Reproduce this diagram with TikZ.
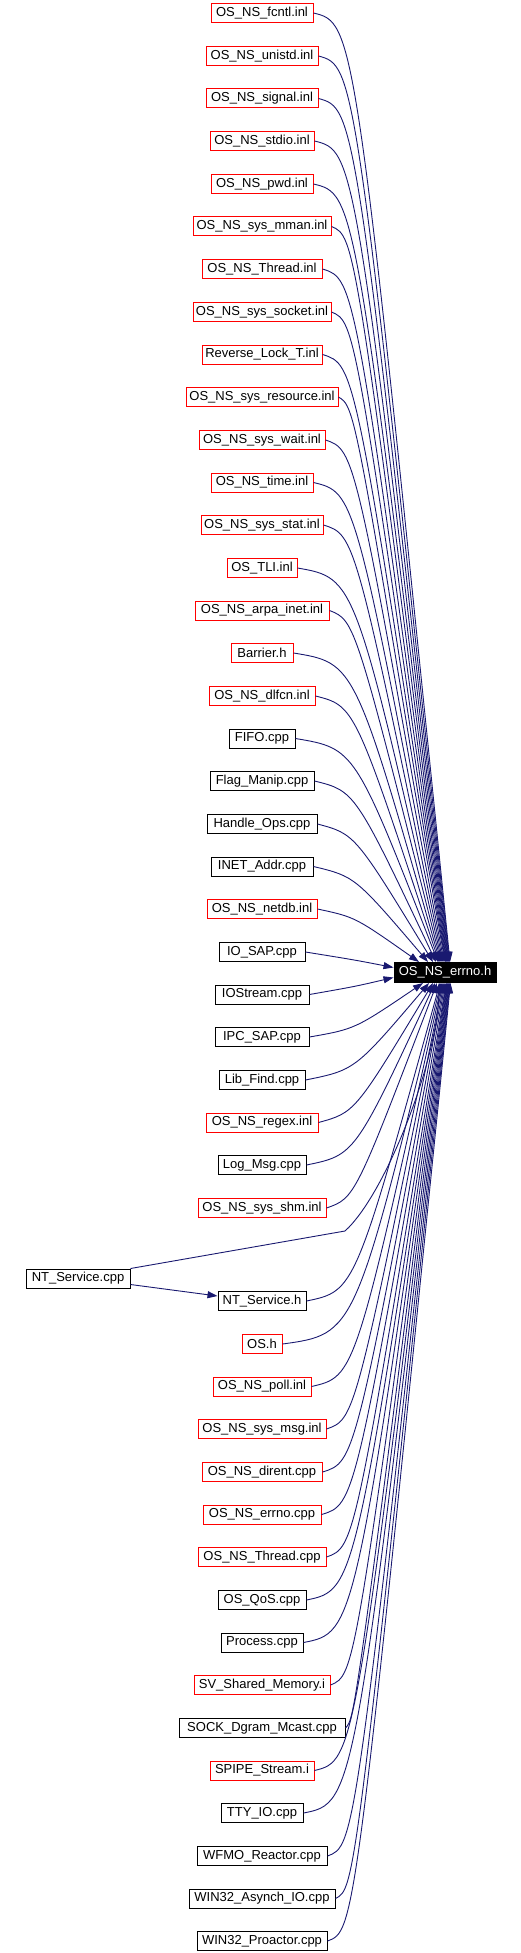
\documentclass[tikz,border=0pt]{standalone}
\usepackage{fontspec}
\setmainfont{Liberation Sans}
\usepackage{tikz}
\usetikzlibrary{arrows.meta,positioning,calc}
\definecolor{darkblue}{RGB}{25,25,112}
\definecolor{darkred}{RGB}{255,0,0}

\begin{document}
\begin{tikzpicture}[x=1pt,y=-1pt,
        file/.style={draw=#1, line width=1pt, inner xsep=1pt, inner ysep=0pt, minimum height=19pt, font=\fontsize{13}{13}\selectfont},
        dep/.style={darkblue, line width=0.9pt, -{Triangle[length=10pt,width=7pt]}}]
        \useasboundingbox (0,0) rectangle (521,1953);
        \node[file=black, fill=black, text=white, minimum width=102pt, minimum height=20pt] (errno) at (445,972.5) {OS\_NS\_errno.h};
        \coordinate (bend) at (355,0);
        \foreach \nm/\lbl/\col/\w/\y in {
            fcntl/OS\_NS\_fcntl.inl/darkred/102/13,
            unistd/OS\_NS\_unistd.inl/darkred/112/56,
            signal/OS\_NS\_signal.inl/darkred/112/98.5,
            stdio/OS\_NS\_stdio.inl/darkred/104/141,
            pwd/OS\_NS\_pwd.inl/darkred/102/184,
            mman/OS\_NS\_sys\_mman.inl/darkred/138/226.5,
            threadinl/OS\_NS\_Thread.inl/darkred/120/269,
            socket/OS\_NS\_sys\_socket.inl/darkred/138/312,
            revlock/Reverse\_Lock\_T.inl/darkred/120/354.5,
            resource/OS\_NS\_sys\_resource.inl/darkred/152/397,
            wait/OS\_NS\_sys\_wait.inl/darkred/126/440,
            time/OS\_NS\_time.inl/darkred/102/482.5,
            stat/OS\_NS\_sys\_stat.inl/darkred/122/525,
            tli/OS\_TLI.inl/darkred/70/568,
            arpa/OS\_NS\_arpa\_inet.inl/darkred/134/610.5,
            barrier/Barrier.h/darkred/62/653,
            dlfcn/OS\_NS\_dlfcn.inl/darkred/106/696,
            fifo/FIFO.cpp/black/66/738.5,
            flag/Flag\_Manip.cpp/black/104/781,
            handle/Handle\_Ops.cpp/black/110/824,
            inet/INET\_Addr.cpp/black/102/866.5,
            netdb/OS\_NS\_netdb.inl/darkred/110/909,
            iosap/IO\_SAP.cpp/black/86/952,
            iostream/IOStream.cpp/black/94/994.5,
            ipcsap/IPC\_SAP.cpp/black/94/1037,
            libfind/Lib\_Find.cpp/black/86/1080,
            regex/OS\_NS\_regex.inl/darkred/112/1122.5,
            logmsg/Log\_Msg.cpp/black/88/1165,
            sysshm/OS\_NS\_sys\_shm.inl/darkred/128/1208,
            nth/NT\_Service.h/black/88/1301,
            osh/OS.h/darkred/40/1344,
            poll/OS\_NS\_poll.inl/darkred/98/1386.5,
            sysmsg/OS\_NS\_sys\_msg.inl/darkred/128/1429,
            dirent/OS\_NS\_dirent.cpp/darkred/120/1472,
            errnocpp/OS\_NS\_errno.cpp/darkred/118/1514.5,
            threadcpp/OS\_NS\_Thread.cpp/darkred/128/1557,
            qos/OS\_QoS.cpp/black/88/1600,
            process/Process.cpp/black/82/1642.5,
            sv/SV\_Shared\_Memory.i/darkred/136/1685,
            sock/SOCK\_Dgram\_Mcast.cpp/black/166/1728,
            spipe/SPIPE\_Stream.i/darkred/104/1770.5,
            tty/TTY\_IO.cpp/black/82/1813,
            wfmo/WFMO\_Reactor.cpp/black/130/1856,
            asynch/WIN32\_Asynch\_IO.cpp/black/146/1898.5,
            proactor/WIN32\_Proactor.cpp/black/130/1941}
            \node[file=\col, minimum width=\w pt] (\nm) at (262,\y) {\lbl};
        \node[file=black, minimum width=104pt] (ntcpp) at (78,1278.5) {NT\_Service.cpp};
        \foreach \nm/\dy/\anc/\dx/\sy in {
            fcntl/10/north/5/0, unistd/10/north/4.5/0, signal/10/north/4/0, stdio/10/north/3.5/0,
            pwd/10/north/3/0, mman/10/north/2.5/0, threadinl/10/north/2/0, socket/10/north/1.5/0,
            revlock/10/north/1/0, resource/10/north/0.5/0, wait/10/north/0/0, time/10/north/-1/0,
            stat/10/north/-2/0, tli/10/north/-3/0, arpa/10/north/-4/0, barrier/10/north/-5/0,
            dlfcn/10/north/-6/0, fifo/10/north/-7/0, flag/10/north/-9/0, handle/10/north/-12/0,
            inet/10/north/-17/0, netdb/8/north/-26/0, iosap/8/west/0/5, iostream/-8/west/0/-5,
            ipcsap/-8/south/-22/0, libfind/-10/south/-16/0, regex/-10/south/-12/0, logmsg/-10/south/-10/0,
            sysshm/-10/south/-8/0, nth/-10/south/-5/0, osh/-10/south/-4/0, poll/-10/south/-3/0,
            sysmsg/-10/south/-2/0, dirent/-10/south/-1/0, errnocpp/-10/south/0/0, threadcpp/-10/south/1/0,
            qos/-10/south/1.5/0, process/-10/south/2/0, sv/-10/south/2.5/0, sock/-10/south/3/0,
            spipe/-10/south/3.5/0, tty/-10/south/4/0, wfmo/-10/south/4.5/0, asynch/-10/south/5/0,
            proactor/-10/south/5.5/0}
            \draw[dep] (\nm.east) .. controls ($(\nm.east -| bend)+(0,\dy)$) and ($(\nm.east -| bend)+(0,\dy)$) .. ([xshift=\dx pt,yshift=\sy pt]errno.\anc);
        \draw[dep] (ntcpp.north east) -- (345,1231) .. controls (385,1195) and (438,1060) .. ([xshift=-6pt]errno.south);
        \draw[dep] ([yshift=-6pt]ntcpp.east) -- ([yshift=5pt]nth.west);
    \end{tikzpicture}
\end{document}
